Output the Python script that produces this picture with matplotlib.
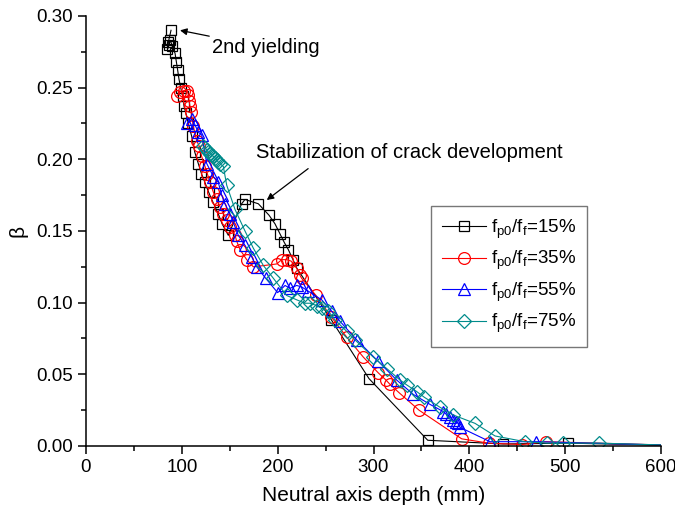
import matplotlib
matplotlib.use('Agg')
import matplotlib.pyplot as plt
from matplotlib.ticker import MultipleLocator

plt.rcParams['font.family'] = ['Liberation Sans', 'DejaVu Sans']
plt.rcParams['mathtext.fontset'] = 'custom'
plt.rcParams['mathtext.rm'] = 'Liberation Sans'
plt.rcParams['mathtext.default'] = 'regular'

# neutral axis depth (mm) and beta for each prestress level
depth_15 = [88.7, 86, 87, 85, 88, 90, 92.9, 94.3, 95.7, 97, 98.8, 100.9, 102.3, 104.3,
            106.8, 110.3, 113.5, 117.2, 120.5, 124, 128, 132.5, 138, 142, 148.5, 162.4,
            165.9, 179.8, 191, 197.2, 202.4, 206.9, 211.1, 216, 220, 256, 295.3, 356.6,
            435.5, 503, 640]
beta_15 = [0.290, 0.282, 0.280, 0.277, 0.283, 0.279, 0.274, 0.268, 0.262, 0.256, 0.250,
           0.244, 0.237, 0.232, 0.225, 0.216, 0.205, 0.197, 0.190, 0.184, 0.177, 0.170,
           0.162, 0.155, 0.147, 0.169, 0.172, 0.169, 0.161, 0.155, 0.148, 0.142, 0.137,
           0.130, 0.124, 0.088, 0.047, 0.004, 0.0014, 0.002, 0.0]

depth_35 = [94.6, 98, 102.3, 105.7, 106.8, 107.5, 108.5, 109.6, 112, 115.5, 118.3, 120.7,
            124.2, 126.6, 129.4, 132.9, 136.4, 139.8, 143.3, 146.8, 150, 155.5, 157.2,
            160.7, 167.7, 174.6, 199, 204.2, 209.4, 214, 219.8, 223.3, 225, 240, 256, 272,
            289.4, 305, 313, 317.2, 327, 347.5, 392, 420, 455, 480, 640]
beta_35 = [0.244, 0.247, 0.248, 0.248, 0.245, 0.241, 0.237, 0.233, 0.223, 0.213, 0.209,
           0.202, 0.195, 0.190, 0.184, 0.177, 0.172, 0.167, 0.162, 0.158, 0.153, 0.147,
           0.143, 0.137, 0.130, 0.125, 0.127, 0.130, 0.130, 0.129, 0.124, 0.119, 0.117,
           0.105, 0.090, 0.076, 0.062, 0.051, 0.046, 0.043, 0.037, 0.025, 0.005, 0.002,
           0.001, 0.003, 0.0]

depth_55 = [105.7, 110.3, 113.7, 117.2, 120.7, 126, 132.9, 138, 141.6, 145, 150.3, 153.7,
            158.9, 165.9, 172.9, 178.1, 187.5, 200, 207.7, 212.9, 219.8, 225, 232, 245.9,
            256.4, 265, 282.5, 305, 324.2, 341.5, 359, 372.9, 376, 380, 383.3, 386, 388.5,
            390.3, 421.6, 470, 640]
beta_55 = [0.225, 0.228, 0.224, 0.219, 0.217, 0.197, 0.188, 0.184, 0.175, 0.169, 0.162,
           0.156, 0.147, 0.140, 0.132, 0.125, 0.117, 0.107, 0.112, 0.110, 0.112, 0.111,
           0.108, 0.102, 0.094, 0.087, 0.074, 0.059, 0.046, 0.036, 0.029, 0.024, 0.022,
           0.020, 0.018, 0.017, 0.016, 0.013, 0.003, 0.003, 0.0]

depth_75 = [122.4, 124.2, 126, 127.7, 129.4, 131.2, 132.9, 134.6, 136.4, 138.1, 139.8,
            143.3, 146.8, 155.5, 165.9, 174.6, 185, 195.5, 209.4, 219.8, 228.5, 233.7,
            240.7, 245.9, 252.9, 259.8, 272, 280.7, 299.8, 313.8, 327.7, 334.7, 345, 353,
            369.4, 383.3, 405.9, 426.8, 458, 480.7, 498, 535.6, 640]
beta_75 = [0.209, 0.208, 0.2065, 0.205, 0.204, 0.203, 0.202, 0.201, 0.1995, 0.198, 0.197,
           0.195, 0.182, 0.165, 0.150, 0.138, 0.126, 0.117, 0.105, 0.102, 0.0996, 0.0996,
           0.098, 0.096, 0.094, 0.088, 0.080, 0.074, 0.062, 0.054, 0.046, 0.0426, 0.038,
           0.034, 0.027, 0.0216, 0.0158, 0.007, 0.003, 0.002, 0.002, 0.002, 0.0]

labels = ['$f_{p0}/f_f$=15%', '$f_{p0}/f_f$=35%', '$f_{p0}/f_f$=55%', '$f_{p0}/f_f$=75%']

fig = plt.figure(figsize=(6.75, 5.14), dpi=100)
ax = fig.add_axes([0.1274, 0.1323, 0.8519, 0.8366])

series = [
    (depth_15, beta_15, 's', 'black', 7.5),
    (depth_35, beta_35, 'o', 'red', 8.5),
    (depth_55, beta_55, '^', 'blue', 8.5),
    (depth_75, beta_75, 'D', '#008b8b', 7.0),
]
for (x, y, m, c, ms), lab in zip(series, labels):
    ax.plot(x, y, marker=m, color=c, mfc='none', mec=c, ms=ms, mew=0.9, lw=0.8,
            label=lab)

ax.set_xlim(0, 600)
ax.set_ylim(0, 0.30)
ax.xaxis.set_major_locator(MultipleLocator(100))
ax.xaxis.set_minor_locator(MultipleLocator(50))
ax.yaxis.set_major_locator(MultipleLocator(0.05))
ax.yaxis.set_minor_locator(MultipleLocator(0.025))
ax.yaxis.set_major_formatter(plt.FormatStrFormatter('%.2f'))
ax.spines['top'].set_visible(False)
ax.spines['right'].set_visible(False)
for s in ['left', 'bottom']:
    ax.spines[s].set_linewidth(1.1)
ax.tick_params(which='major', direction='out', length=6, width=1.1, labelsize=13.5)
ax.tick_params(which='minor', direction='out', length=3.5, width=1.1)

ax.set_xlabel('Neutral axis depth (mm)', fontsize=15, labelpad=7)
ax.set_ylabel('β', fontsize=15, labelpad=6)

ax.annotate('2nd yielding', xy=(98.1, 0.290), xytext=(131.5, 0.278), fontsize=14.5,
            va='center', ha='left',
            arrowprops=dict(arrowstyle='-|>', color='black', lw=0.9, shrinkA=0, shrinkB=0,
                            mutation_scale=10))
ax.annotate('Stabilization of crack development', xy=(188.6, 0.1716), xytext=(177.4, 0.205),
            fontsize=14.5, va='center', ha='left',
            arrowprops=dict(arrowstyle='-|>', color='black', lw=0.9, shrinkA=5, shrinkB=0,
                            mutation_scale=10, relpos=(0.2, 0.0)))

leg = ax.legend(loc='upper left', bbox_to_anchor=(0.6, 0.558), borderaxespad=0,
                fancybox=False, edgecolor='#555555', fontsize=13.5, handlelength=2.35,
                labelspacing=0.45, handletextpad=0.25, borderpad=0.6, frameon=True)
leg.get_frame().set_linewidth(1.0)

fig.savefig('out.png', dpi=100)
